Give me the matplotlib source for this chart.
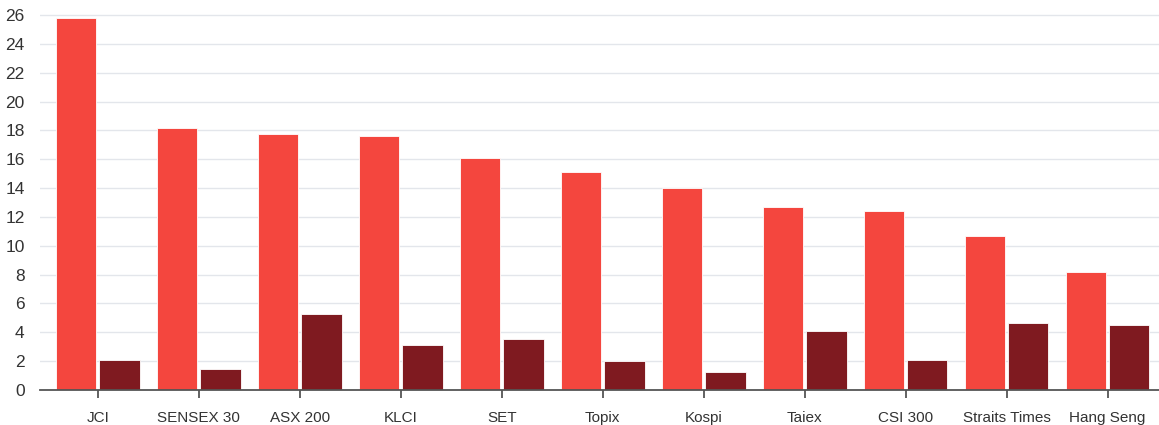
import numpy as np
import matplotlib
matplotlib.use("Agg")
import matplotlib.pyplot as plt

# index names and the two series
indices = ["JCI", "SENSEX 30", "ASX 200", "KLCI", "SET", "Topix", "Kospi",
           "Taiex", "CSI 300", "Straits Times", "Hang Seng"]
series_a = [25.8, 18.15, 17.75, 17.6, 16.1, 15.1, 14.0, 12.7, 12.4, 10.7, 8.2]
series_b = [2.1, 1.45, 5.3, 3.1, 3.55, 2.0, 1.25, 4.1, 2.05, 4.65, 4.5]
y_ticks = list(range(0, 27, 2))

plt.rcParams['font.family'] = ['Liberation Sans', 'DejaVu Sans']

fig = plt.figure(figsize=(11.59, 4.25), dpi=100)
ax = fig.add_axes([0.0345, 0.0824, 0.9655, 0.899])

x = np.arange(len(indices))
w = 0.4
ax.bar(x - 0.215, series_a, width=w, color="#F4463E", edgecolor="white", linewidth=0.6, zorder=3)
ax.bar(x + 0.215, series_b, width=w, color="#7F1A20", edgecolor="white", linewidth=0.6, zorder=3)

ax.set_xlim(-0.574, 10.51)
ax.set_ylim(0, 26.5)
ax.set_yticks(y_ticks)
ax.set_xticks(x)
ax.set_xticklabels(indices)

ax.grid(axis="y", color="#E3E6EB", linewidth=1, zorder=0)
for s in ["top", "right", "left"]:
    ax.spines[s].set_visible(False)
ax.spines["bottom"].set_color("#555555")
ax.spines["bottom"].set_linewidth(1.3)
ax.spines["bottom"].set_zorder(4)

ax.tick_params(axis="y", length=0, pad=11, labelsize=12.5, labelcolor="#333333")
ax.tick_params(axis="x", length=6, width=1.3, color="#555555", pad=9,
               labelsize=11, labelcolor="#333333")

fig.savefig("out.png", dpi=100)
